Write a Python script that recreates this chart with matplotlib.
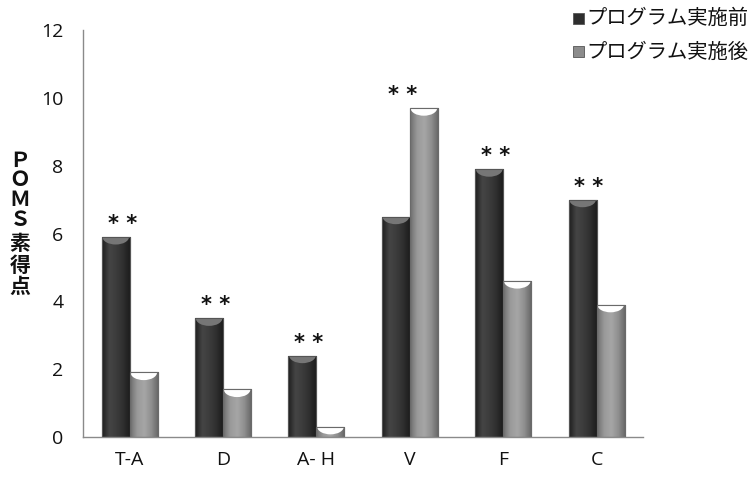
import numpy as np
import matplotlib
matplotlib.use("Agg")
import matplotlib.pyplot as plt
from matplotlib.patches import Rectangle, Ellipse
from matplotlib.colors import LinearSegmentedColormap

plt.rcParams['font.family'] = ['Open Sans', 'Noto Sans CJK JP', 'DejaVu Sans']

categories = ["T-A", "D", "A- H", "V", "F", "C"]
before = [5.9, 3.5, 2.4, 6.5, 7.9, 7.0]
after = [1.9, 1.4, 0.3, 9.7, 4.6, 3.9]
series_names = ["プログラム実施前", "プログラム実施後"]
sig_marks = ["* *"] * 6
yticks = [0, 2, 4, 6, 8, 10, 12]
ylabel_chars = ["Ｐ", "Ｏ", "Ｍ", "Ｓ", "素", "得", "点"]

fig = plt.figure(figsize=(7.55, 4.78), dpi=100)
ax = fig.add_axes([0.110, 0.086, 0.742, 0.851])

x = np.arange(len(categories))
w = 0.30

dark_cmap = LinearSegmentedColormap.from_list(
    "dark", ["#1e1e1e", "#454545", "#3c3c3c", "#2e2e2e", "#1a1a1a"])
light_cmap = LinearSegmentedColormap.from_list(
    "light", ["#6e6e6e", "#9a9a9a", "#a6a6a6", "#8e8e8e", "#646464"])

bars_b = ax.bar(x - w / 2, before, w, color="#333333", edgecolor="#555555",
                linewidth=0.8, zorder=2)
bars_a = ax.bar(x + w / 2, after, w, color="#8c8c8c", edgecolor="#6a6a6a",
                linewidth=0.8, zorder=2)

grad = np.linspace(0, 1, 64).reshape(1, -1)
for bars, cmap, cap in ((bars_b, dark_cmap, "#767676"), (bars_a, light_cmap, "#ffffff")):
    for p in bars:
        x0, bw, h = p.get_x(), p.get_width(), p.get_height()
        im = ax.imshow(grad, cmap=cmap, aspect="auto",
                       extent=[x0, x0 + bw, 0, h], zorder=2.5,
                       interpolation="bilinear")
        im.set_clip_path(p)
        capshape = Ellipse((x0 + bw / 2, h), bw * 0.95, min(0.45, 2 * h * 0.9),
                           facecolor=cap, edgecolor="none", zorder=2.6)
        ax.add_patch(capshape)
        capshape.set_clip_path(p)
        edge = Rectangle((x0, 0), bw, h, facecolor="none",
                         edgecolor=p.get_edgecolor(), linewidth=0.8, zorder=2.7)
        ax.add_patch(edge)

# significance marks above each pair
for xi, b, a, m in zip(x, before, after, sig_marks):
    ax.text(xi - 0.08, max(b, a) + 0.2, m, ha="center", va="baseline",
            fontsize=15, fontweight="bold", color="#111111",
            family=['DejaVu Sans'])

ax.set_xlim(-0.5, len(categories) - 0.5)
ax.set_ylim(0, 12)
ax.set_xticks(x)
ax.set_xticklabels(categories, fontsize=14)
ax.set_yticks(yticks)
ax.set_yticklabels([str(t) for t in yticks], fontsize=14)
ax.tick_params(axis="both", length=0, colors="#111111")
ax.tick_params(axis="y", pad=14)
ax.tick_params(axis="x", pad=10)
for s in ("top", "right"):
    ax.spines[s].set_visible(False)
for s in ("left", "bottom"):
    ax.spines[s].set_color("#8a8a8a")
    ax.spines[s].set_linewidth(1.0)

# vertical axis title, one character per line
label_px = [160, 180, 200, 220, 243, 265, 286]
for ch, py in zip(ylabel_chars, label_px):
    fig.text(20 / 755, 1 - py / 478, ch, ha="center", va="center",
             fontsize=15, fontweight="bold", family=['Noto Sans CJK JP'],
             color="#111111")

legend_y = [1 - 18 / 478, 1 - 52 / 478]
legend_colors = ["#2e2e2e", "#8c8c8c"]
for yy, name, col in zip(legend_y, series_names, legend_colors):
    fig.add_artist(Rectangle((573 / 755, yy - 5.5 / 478), 11 / 755, 11 / 478,
                             transform=fig.transFigure, facecolor=col,
                             edgecolor="#555555", linewidth=0.6))
    fig.text(586 / 755, yy, name, ha="left", va="center", fontsize=14.6,
             family=['Noto Sans CJK JP'], color="#111111")

fig.savefig("out.png", dpi=100)
